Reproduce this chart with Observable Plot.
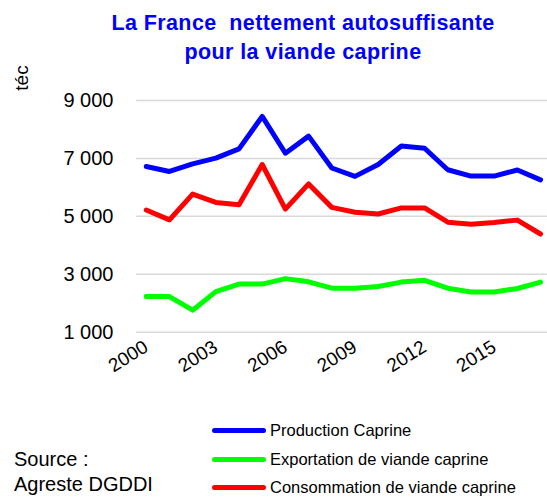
<!DOCTYPE html>
<html>
<head>
<meta charset="utf-8">
<script src="https://cdn.jsdelivr.net/npm/d3@7"></script>
<script src="https://cdn.jsdelivr.net/npm/@observablehq/plot@0.6"></script>
<style>
  html, body { margin: 0; padding: 0; background: #fff; overflow: hidden; }
  #wrap { position: relative; width: 547px; height: 498px; overflow: hidden; font-family: "Liberation Sans", Arial, sans-serif; }
  #chart { position: absolute; left: 0; top: 0; }
  #title { position: absolute; left: 40px; width: 526px; top: 9px; text-align: center; color: #0000ff; font-weight: bold; font-size: 21.5px; letter-spacing: 0.4px; line-height: 29px; white-space: nowrap; }
  #unit { position: absolute; left: 22px; top: 78px; transform: translate(-50%, -50%) rotate(-90deg); font-size: 19px; color: #000; }
  #source { position: absolute; left: 14px; top: 447px; font-size: 20px; line-height: 25px; color: #000; }
  .leg { position: absolute; left: 212px; white-space: nowrap; font-size: 16.5px; color: #000; display: flex; align-items: center; height: 20px; }
  .leg .sw { display: inline-block; width: 54px; height: 5px; border-radius: 3px; margin-right: 4px; }
</style>
</head>
<body>
<div id="wrap">
  <div id="chart"></div>
  <div id="title">La France&nbsp; nettement autosuffisante<br>pour la viande caprine</div>
  <div id="unit">téc</div>
  <div id="source">Source :<br>Agreste DGDDI</div>
  <div id="legend"></div>
</div>
<script>
const years = [2000,2001,2002,2003,2004,2005,2006,2007,2008,2009,2010,2011,2012,2013,2014,2015,2016,2017];
const production   = [6720,6550,6810,7010,7330,8450,7180,7770,6670,6380,6790,7430,7350,6610,6390,6390,6600,6260];
const exportation  = [2230,2230,1760,2400,2660,2660,2850,2740,2520,2520,2580,2730,2790,2520,2390,2390,2510,2730];
const consommation = [5220,4880,5770,5480,5400,6790,5250,6120,5310,5140,5080,5290,5290,4800,4730,4790,4870,4390];
const seriesNames = ["Production Caprine", "Exportation de viande caprine", "Consommation de viande caprine"];
const seriesColors = ["#0000ff", "#00ff00", "#ff0000"];
const yTicks = [1000, 3000, 5000, 7000, 9000];
const xTicks = [2000, 2003, 2006, 2009, 2012, 2015];

const seriesValues = [production, exportation, consommation];
const data = [];
seriesNames.forEach((name, i) => {
  years.forEach((yr, j) => data.push({series: name, year: yr, value: seriesValues[i][j]}));
});

const fmt = v => d3.format(",")(v).replace(/,/g, " ");

const chart = Plot.plot({
  width: 547,
  height: 400,
  marginLeft: 136,
  marginRight: 0,
  marginTop: 100,
  marginBottom: 68.3,
  style: {fontFamily: "Liberation Sans, Arial, sans-serif", fontSize: "18px", color: "#000", background: "transparent"},
  x: {domain: [1999.58, 2017.3], ticks: xTicks, tickFormat: d => String(d), label: null},
  y: {domain: [1000, 9000], ticks: yTicks, tickFormat: fmt, label: null},
  color: {domain: seriesNames, range: seriesColors},
  marks: [
    Plot.gridY(yTicks, {stroke: "#d9d9d9", strokeOpacity: 1, strokeWidth: 1.5}),
    Plot.axisY({ticks: yTicks, tickFormat: fmt, tickSize: 0, tickPadding: 23, fontSize: 20, label: null}),
    Plot.axisX({ticks: xTicks, tickFormat: d => String(d), tickSize: 0, tickPadding: 13, tickRotate: -32, fontSize: 19, label: null}),
    Plot.line(data, {x: "year", y: "value", z: "series", stroke: "series", strokeWidth: 5, strokeLinejoin: "round", strokeLinecap: "round"})
  ]
});
document.getElementById("chart").appendChild(chart);

const legend = document.getElementById("legend");
const legTops = [430, 459, 487];
seriesNames.forEach((name, i) => {
  const row = document.createElement("div");
  row.className = "leg";
  row.style.top = (legTops[i] - 10) + "px";
  row.innerHTML = `<span class="sw" style="background:${seriesColors[i]}"></span><span>${name}</span>`;
  legend.appendChild(row);
});
</script>
</body>
</html>
